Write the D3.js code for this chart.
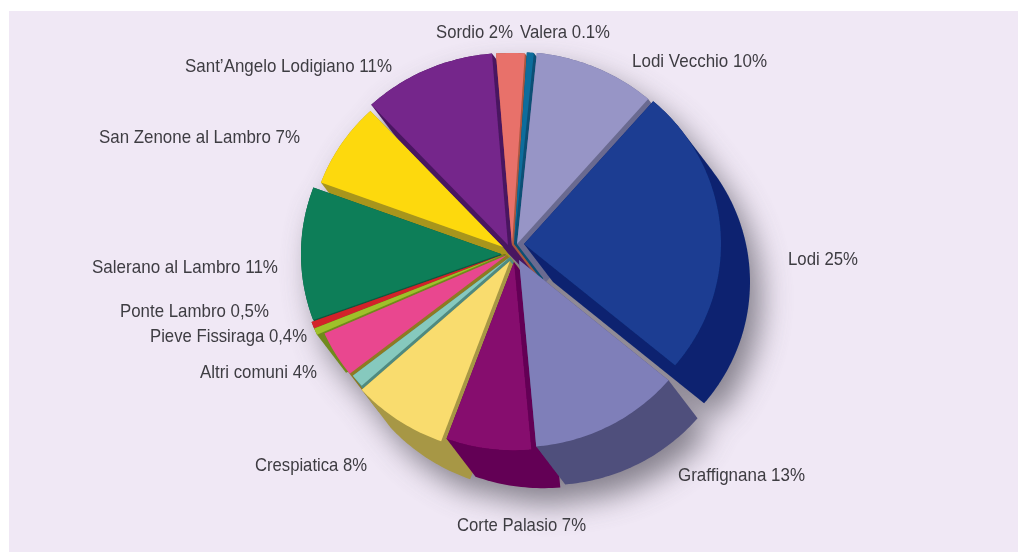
<!DOCTYPE html>
<html>
<head>
<meta charset="utf-8">
<script src="https://cdn.jsdelivr.net/npm/d3@7/dist/d3.min.js"></script>
<style>
html,body{margin:0;padding:0;background:#fff}
svg{display:block}
text{font-family:"Liberation Sans",Arial,sans-serif;fill:#3e3c42}
</style>
</head>
<body>
<svg id="c" width="1018" height="552"></svg>
<script>
// Slices clockwise, starting from Sordio. Shares.
const names = ["Sordio","Valera","Lodi Vecchio","Lodi","Graffignana","Corte Palasio","Crespiatica","(senza etichetta)","Altri comuni","Pieve Fissiraga","Ponte Lambro","Salerano al Lambro","San Zenone al Lambro","Sant\u2019Angelo Lodigiano"];
const shares = [2.3,0.56,9.8,24.7,12.5,7.0,7.7,1.1,3.9,0.56,0.56,11.2,7.4,10.7];
const faceColours = ["#e8716a","#0b6d9c","#9795c6","#1b3d92","#7f7fb9","#860b6e","#f9dc6e","#86c9be","#e9478f","#9fc129","#d3222a","#0a7e58","#fdd90f","#74268b"];
const sideColours = ["#a8573f","#0a4f74","#6a6a90","#0b2470","#4f4f7c","#640054","#a79744","#4f8a80","#8e7a20","#6f8a1c","#8e2020","#0a5a40","#a8951c","#4a1660"];
const labels = ["Sordio 2%","Valera 0.1%","Lodi Vecchio 10%","Lodi 25%","Graffignana 13%","Corte Palasio 7%","Crespiatica 8%","Altri comuni 4%","Pieve Fissiraga 0,4%","Ponte Lambro 0,5%","Salerano al Lambro 11%","San Zenone al Lambro 7%","Sant\u2019Angelo Lodigiano 11%"];

// layout
const W = 1018, H = 552;
const centre = [511, 250], rx = 200, ry = 192;
const depth = [29, 38];
const startAngle = -4.6 * Math.PI / 180;
const apexOffsets = [[1,-5],[3,-6],[6,-6],[13,-6],[8,10],[3,12],[-1,11],[-1,7],[-4,5],[-6,4],[-6,4],[-10,4],[-8,-3],[-3,-5]];
const radiusFactors = [1,1,1,.985,.975,.98,1,1,1,1.03,1.03,1,.97,1];
const labelSpots = [[436,38,77],[520,38,90],[632,67,135],[788,265,70],[678,481,127],[457,531,129],[255,471,112],[200,378,117],[150,342,157],[120,317,149],[92,273,186],[99,143,201],[185,72,207]];

const svg = d3.select("#c");
const defs = svg.append("defs");
const blur = defs.append("filter").attr("id","soft").attr("x","-30%").attr("y","-30%").attr("width","160%").attr("height","160%");
blur.append("feGaussianBlur").attr("stdDeviation",15);
const fine = defs.append("filter").attr("id","fine").attr("x","-5%").attr("y","-5%").attr("width","110%").attr("height","110%");
fine.append("feGaussianBlur").attr("stdDeviation",0.45);

svg.append("rect").attr("x",9).attr("y",11).attr("width",W-9).attr("height",H-11).attr("fill","#f0e8f5");

const arcs = d3.pie().sort(null).value(d=>d).startAngle(startAngle).endAngle(startAngle + 2*Math.PI)(shares);

function outline(a, i){
  const ox = centre[0] + apexOffsets[i][0], oy = centre[1] + apexOffsets[i][1];
  const f = radiusFactors[i];
  const pts = [[ox,oy]];
  const n = Math.max(4, Math.ceil((a.endAngle-a.startAngle)/0.02));
  d3.range(n+1).forEach(k=>{
    const t = d3.interpolateNumber(a.startAngle, a.endAngle)(k/n);
    pts.push([ox + f*rx*Math.sin(t), oy - f*ry*Math.cos(t)]);
  });
  return pts;
}
const line = d3.line().curve(d3.curveLinearClosed);

const slices = arcs.map((a,i)=>{
  const top = outline(a,i);
  const shifted = top.map(p=>[p[0]+depth[0], p[1]+depth[1]]);
  const hull = d3.polygonHull(top.concat(shifted));
  const mid = (a.startAngle+a.endAngle)/2;
  const order = depth[0]*Math.sin(mid) - depth[1]*Math.cos(mid);
  return {i, top, hull, order};
});

// Soft drop shadow beneath the whole pie
const shadow = svg.append("g").attr("filter","url(#soft)").attr("transform","translate(11,16)").attr("opacity",0.8);
slices.forEach(s=>shadow.append("path").attr("d",line(s.hull)).attr("fill","#6a6672"));

// Paint far slices first, so nearer ones cover their sides
const painted = slices.slice().sort((a,b)=>d3.ascending(a.order,b.order));
const pie = svg.append("g").attr("filter","url(#fine)");
painted.forEach(s=>{
  pie.append("path").attr("d",line(s.hull)).attr("fill",sideColours[s.i]);
  pie.append("path").attr("d",line(s.top)).attr("fill",faceColours[s.i]);
});

// Labels
const labelLayer = svg.append("g").attr("filter","url(#fine)");
labels.forEach((t,i)=>{
  const [x,y,len] = labelSpots[i];
  labelLayer.append("text").attr("x",x).attr("y",y)
    .attr("font-size",19).attr("textLength",len).attr("lengthAdjust","spacingAndGlyphs").text(t);
});
</script>
</body>
</html>
